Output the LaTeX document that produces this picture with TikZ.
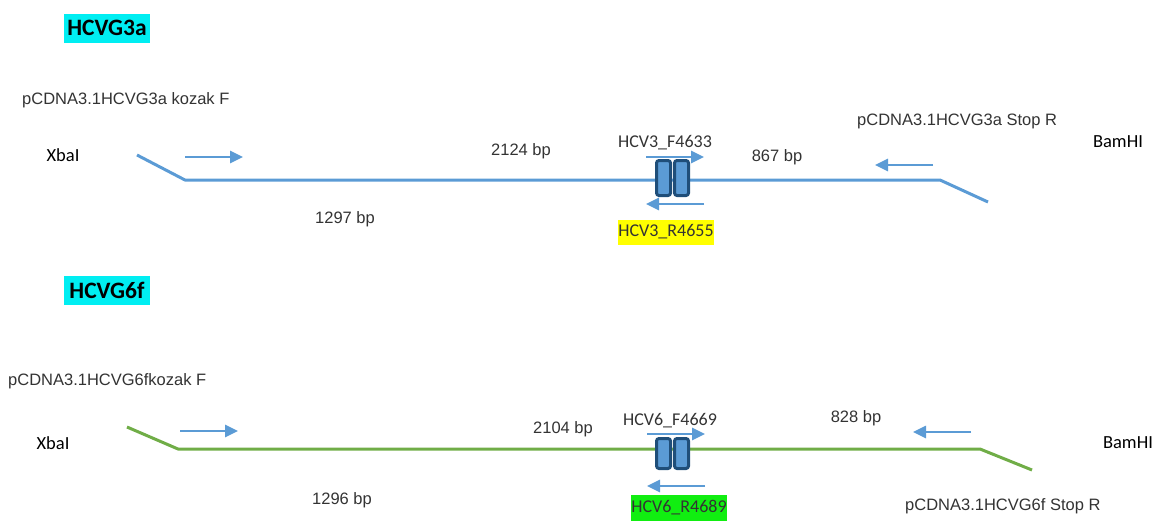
\documentclass[tikz,border=0pt]{standalone}
\usepackage{fontspec}
\setmainfont{Liberation Sans}
\newfontfamily\calfont{Carlito}
\usetikzlibrary{arrows.meta}
\definecolor{lineblue}{HTML}{5B9BD5}
\definecolor{linegreen}{HTML}{70AD47}
\definecolor{boxnavy}{HTML}{1F4E79}
\definecolor{hlcyan}{HTML}{00EEF2}
\definecolor{hlyellow}{HTML}{FFFF00}
\definecolor{hlgreen}{HTML}{11EE11}
\definecolor{txt}{HTML}{333333}
\begin{document}
\begin{tikzpicture}[x=1pt,y=-1pt,
 lbl/.style={font=\fontsize{16.5}{18}\selectfont, text=txt, inner sep=0pt},
 prim/.style={font=\calfont\fontsize{18}{20}\selectfont, text=txt, inner sep=0pt},
 enz/.style={font=\calfont\fontsize{18.5}{20}\selectfont, text=black, inner sep=0pt},
 titlebox/.style={font=\calfont\bfseries\fontsize{23.5}{25}\selectfont, fill=hlcyan, inner sep=0pt, minimum width=86pt, minimum height=29pt},
 strand/.style={line width=3pt, line join=round},
 parrow/.style={draw=lineblue, line width=2.6pt, -{Triangle[length=13pt,width=12pt]}},
 exon/.style={draw=boxnavy, fill=lineblue, line width=3pt, rounded corners=2.5pt, minimum width=14pt, inner sep=0pt}
]
\useasboundingbox (0,0) rectangle (1159,523);

% ---------------- HCVG3a ----------------
\node[titlebox] (t1) at (107,28) {HCVG3a};
\node[lbl, anchor=west] (kf1) at (22,100) {pCDNA3.1HCVG3a kozak F};
\node[enz] (x1) at (63,155) {XbaI};
\node[enz] (b1) at (1118,142) {BamHI};
\node[lbl, anchor=west] (sr1) at (857,121) {pCDNA3.1HCVG3a Stop R};
\node[lbl] (l1a) at (521,151) {2124 bp};
\node[lbl] (l1b) at (345,219) {1297 bp};
\node[lbl] (l1c) at (777,157) {867 bp};

\coordinate (s1a) at (137,155);
\coordinate (s1b) at (185,180);
\coordinate (s1c) at (940,180);
\coordinate (s1d) at (988,202);
\draw[strand, draw=lineblue] (s1a) -- (s1b) -- (s1c) -- (s1d);

\node[exon, minimum height=35pt] (e1a) at (663.5,178) {};
\node[exon, minimum height=35pt] (e1b) at (681.5,178) {};

\node[prim] (f1) at (665,143) {HCV3\_F4633};
\node[prim, fill=hlyellow, minimum width=94pt, minimum height=25pt] (r1) at (666,232) {HCV3\_R4655};

\coordinate (a1s) at (185,157); \coordinate (a1e) at (243,157);
\draw[parrow] (a1s) -- (a1e);
\coordinate (a2s) at (646,157); \coordinate (a2e) at (704,157);
\draw[parrow] (a2s) -- (a2e);
\coordinate (a3s) at (704,204); \coordinate (a3e) at (646,204);
\draw[parrow] (a3s) -- (a3e);
\coordinate (a4s) at (933,165); \coordinate (a4e) at (875,165);
\draw[parrow] (a4s) -- (a4e);

% ---------------- HCVG6f ----------------
\node[titlebox] (t2) at (107,290) {HCVG6f};
\node[lbl, anchor=west] (kf2) at (8,381) {pCDNA3.1HCVG6fkozak F};
\node[enz] (x2) at (53,443) {XbaI};
\node[enz] (b2) at (1128,443) {BamHI};
\node[lbl, anchor=west] (sr2) at (905,506) {pCDNA3.1HCVG6f Stop R};
\node[lbl] (l2a) at (563,429) {2104 bp};
\node[lbl] (l2b) at (342,500) {1296 bp};
\node[lbl] (l2c) at (856,418) {828 bp};

\coordinate (s2a) at (127,427);
\coordinate (s2b) at (178,449);
\coordinate (s2c) at (980,449);
\coordinate (s2d) at (1032,470);
\draw[strand, draw=linegreen] (s2a) -- (s2b) -- (s2c) -- (s2d);

\node[exon, minimum height=30pt] (e2a) at (663.5,453.5) {};
\node[exon, minimum height=30pt] (e2b) at (681.5,453.5) {};

\node[prim] (f2) at (670,421) {HCV6\_F4669};
\node[prim, fill=hlgreen, minimum width=95pt, minimum height=26pt] (r2) at (679,508) {HCV6\_R4689};

\coordinate (b1s) at (180,431); \coordinate (b1e) at (238,431);
\draw[parrow] (b1s) -- (b1e);
\coordinate (b2s) at (647,434); \coordinate (b2e) at (705,434);
\draw[parrow] (b2s) -- (b2e);
\coordinate (b3s) at (705,486); \coordinate (b3e) at (647,486);
\draw[parrow] (b3s) -- (b3e);
\coordinate (b4s) at (971,432); \coordinate (b4e) at (913,432);
\draw[parrow] (b4s) -- (b4e);
\end{tikzpicture}
\end{document}
